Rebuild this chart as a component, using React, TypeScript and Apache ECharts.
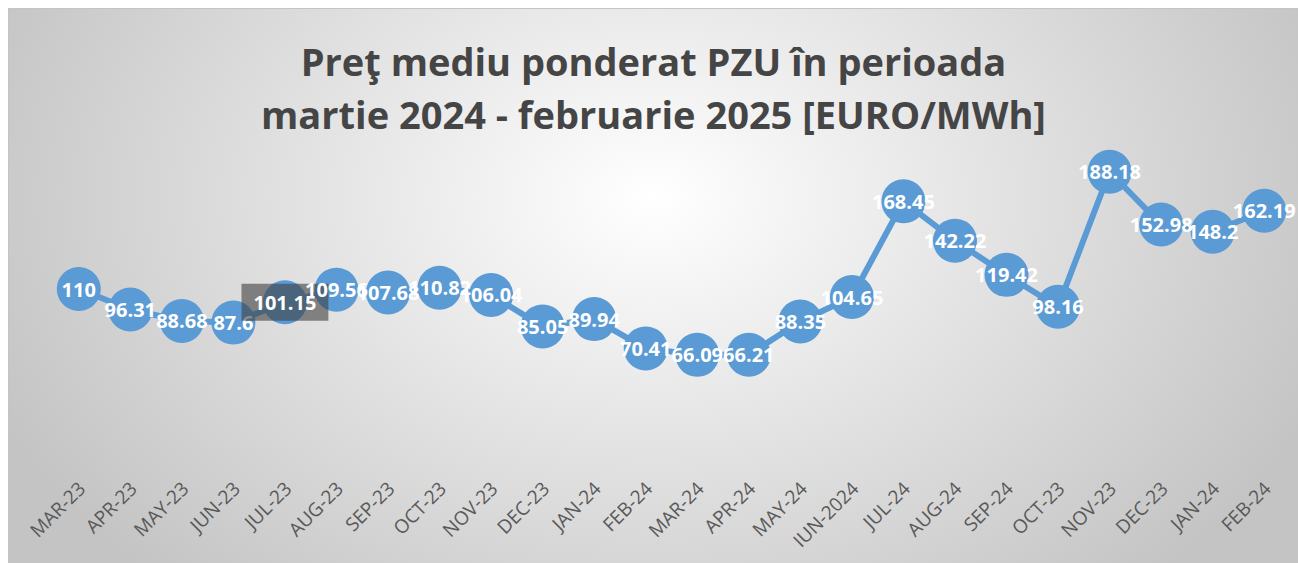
import React, { useEffect, useRef } from "react";
import * as echarts from "echarts";

const categories = [
  "MAR-23", "APR-23", "MAY-23", "JUN-23", "JUL-23", "AUG-23", "SEP-23", "OCT-23",
  "NOV-23", "DEC-23", "JAN-24", "FEB-24", "MAR-24", "APR-24", "MAY-24", "IUN-2024",
  "JUL-24", "AUG-24", "SEP-24", "OCT-23", "NOV-23", "DEC-23", "JAN-24", "FEB-24",
];
const values = [
  110, 96.31, 88.68, 87.6, 101.15, 109.56, 107.68, 110.82,
  106.04, 85.05, 89.94, 70.41, 66.09, 66.21, 88.35, 104.65,
  168.45, 142.22, 119.42, 98.16, 188.18, 152.98, 148.2, 162.19,
];
const highlightedIndex = 4;
const titleText = "Preţ mediu ponderat PZU în perioada\nmartie 2024 - februarie 2025 [EURO/MWh]";

const W = 1289;
const H = 554;

export default function App() {
  const ref = useRef<HTMLDivElement>(null);
  useEffect(() => {
    document.documentElement.style.overflow = "hidden";
    document.body.style.overflow = "hidden";
    document.body.style.marginBottom = "0";
    document.body.style.marginRight = "0";
    const chart = echarts.init(ref.current!, null, { renderer: "svg" });
    const data = values.map((v, i) =>
      i === highlightedIndex
        ? {
            value: v,
            label: {
              backgroundColor: "rgba(64,64,64,0.6)",
              padding: [9, 12, 8, 12],
            },
          }
        : v
    );
    chart.setOption({
      animation: false,
      backgroundColor: "transparent",
      title: {
        text: titleText,
        left: "center",
        top: 20,
        textStyle: {
          fontFamily: "Open Sans",
          fontWeight: "bold",
          fontSize: 38,
          lineHeight: 53,
          color: "#454545",
        },
      },
      grid: [
        { left: 44, right: 8, top: 145, bottom: 109, containLabel: false, outerBoundsMode: "none" },
        { left: 47, right: 5, top: 145, bottom: 109, containLabel: false, outerBoundsMode: "none" },
      ],
      xAxis: [
        {
          type: "category",
          gridIndex: 0,
          data: categories,
          boundaryGap: true,
          axisLine: { show: false },
          axisTick: { show: false },
          axisLabel: { show: false },
        },
        {
          type: "category",
          gridIndex: 1,
          data: categories,
          boundaryGap: true,
          axisLine: { show: false },
          axisTick: { show: false },
          axisLabel: {
            rotate: 45,
            interval: 0,
            margin: 31,
            color: "#595959",
            fontFamily: "Open Sans",
            fontSize: 19,
          },
        },
      ],
      yAxis: [
        { type: "value", gridIndex: 0, min: 0, max: 200, show: false, splitLine: { show: false } },
        { type: "value", gridIndex: 1, min: 0, max: 200, show: false, splitLine: { show: false } },
      ],
      series: [
        {
          type: "line",
          xAxisIndex: 0,
          yAxisIndex: 0,
          data,
          symbol: "circle",
          symbolSize: 44,
          showSymbol: true,
          showAllSymbol: true,
          lineStyle: { color: "#5B9BD5", width: 6 },
          itemStyle: { color: "#5B9BD5" },
          label: {
            show: true,
            position: "inside",
            color: "#ffffff",
            fontFamily: "Open Sans",
            fontWeight: "bold",
            fontSize: 20,
          },
          labelLayout: { hideOverlap: false },
          z: 2,
        },
      ],
    });
    return () => chart.dispose();
  }, []);
  return (
    <div
      style={{
        borderTop: "1px solid #c4c4c4",
        borderLeft: "1px solid #c4c4c4",
        width: W,
        height: H,
        background:
          "radial-gradient(ellipse 56% 95% at 50% 34%, #ffffff 0%, #c4c4c4 100%)",
      }}
    >
      <div ref={ref} style={{ width: W, height: H }} />
    </div>
  );
}
